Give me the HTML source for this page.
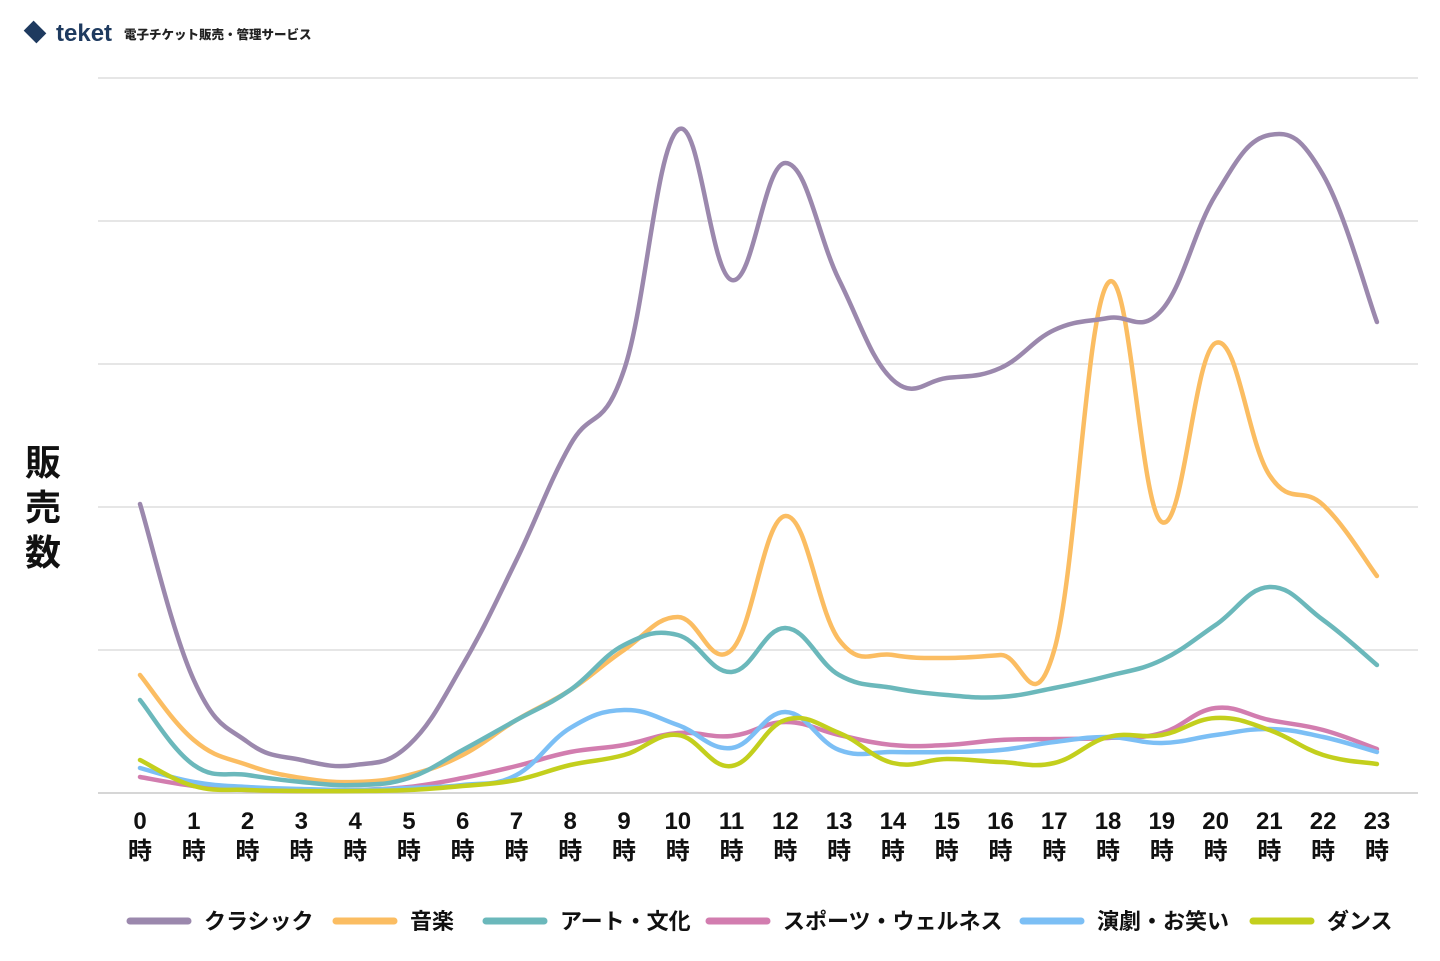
<!DOCTYPE html><html><head><meta charset="utf-8"><style>body{margin:0;background:#fff}svg text{font-family:"Liberation Sans","Noto Sans CJK JP",sans-serif;font-weight:bold;fill:#111}</style></head><body>
<svg id="s" width="1440" height="956" xmlns="http://www.w3.org/2000/svg">
<g transform="translate(35,32) rotate(45)"><rect x="-9" y="-7" width="18" height="14" fill="#1e3a5f"/></g>
<text x="56" y="41" font-size="24" style="fill:#1e3a5f;font-weight:900">teket</text>
<text x="124" y="39" font-size="12.5" style="fill:#222;font-weight:900">電子チケット販売・管理サービス</text>
<g stroke="#d6d6d6" stroke-width="1.2"><line x1="98" x2="1418" y1="78" y2="78"/><line x1="98" x2="1418" y1="221" y2="221"/><line x1="98" x2="1418" y1="364" y2="364"/><line x1="98" x2="1418" y1="507" y2="507"/><line x1="98" x2="1418" y1="650" y2="650"/><line x1="98" x2="1418" y1="793" y2="793" stroke="#c8c8c8" stroke-width="1.6"/></g>
<text x="43" y="475" font-size="36" text-anchor="middle">販</text>
<text x="43" y="520" font-size="36" text-anchor="middle">売</text>
<text x="43" y="565" font-size="36" text-anchor="middle">数</text>
<g id="ax"></g><g id="ln" fill="none" stroke-width="4.5" stroke-linecap="round"></g>
<g font-size="22">
<line x1="130" x2="188" y1="921" y2="921" stroke="#9b88ad" stroke-width="7" stroke-linecap="round"/><text x="204" y="929">クラシック</text>
<line x1="336" x2="394" y1="921" y2="921" stroke="#fbbd62" stroke-width="7" stroke-linecap="round"/><text x="410" y="929">音楽</text>
<line x1="486" x2="544" y1="921" y2="921" stroke="#6bb8bb" stroke-width="7" stroke-linecap="round"/><text x="560" y="929">アート・文化</text>
<line x1="709" x2="767" y1="921" y2="921" stroke="#d27daf" stroke-width="7" stroke-linecap="round"/><text x="783" y="929">スポーツ・ウェルネス</text>
<line x1="1023" x2="1081" y1="921" y2="921" stroke="#7cbff5" stroke-width="7" stroke-linecap="round"/><text x="1097" y="929">演劇・お笑い</text>
<line x1="1253" x2="1311" y1="921" y2="921" stroke="#c3cf1d" stroke-width="7" stroke-linecap="round"/><text x="1327" y="929">ダンス</text>
</g></svg>
<script>
var X=i=>140+i*53.78;var ns="http://www.w3.org/2000/svg";
var ax=document.getElementById('ax');
for(var i=0;i<24;i++){[[String(i),829],["時",859]].forEach(function(t){var e=document.createElementNS(ns,'text');e.setAttribute('x',X(i));e.setAttribute('y',t[1]);e.setAttribute('font-size','24');e.setAttribute('text-anchor','middle');e.textContent=t[0];ax.appendChild(e);});}
var D=[
["#fbbd62",[675,740,765,778,782,775,755,720,690,650,617,650,516,640,655,658,655,650,283,522,343,475,505,576]],
["#6bb8bb",[700,765,775,782,785,778,750,720,690,645,635,672,628,675,688,695,697,688,676,660,625,587,620,665]],
["#d27daf",[777,786,790,791,790,787,778,766,752,745,733,736,722,735,745,745,740,739,738,733,708,720,730,749]],
["#7cbff5",[768,782,787,789,790,788,785,775,728,710,725,748,712,750,752,752,750,742,737,743,735,729,737,752]],
["#c3cf1d",[760,786,790,791,791,790,786,780,765,755,735,766,720,733,763,759,762,763,737,735,718,730,755,764]],
["#9b88ad",[504,680,742,760,765,745,665,560,445,370,130,280,163,280,380,378,368,330,318,310,195,135,175,322]]];
var ln=document.getElementById('ln');
D.forEach(function(s){var y=s[1],p=y.map((v,i)=>[X(i),v]);var d="M"+p[0][0]+","+p[0][1];
for(var i=0;i<p.length-1;i++){var a=p[i-1]||p[i],b=p[i],c=p[i+1],e=p[i+2]||c;var t=0.2;
d+=" C"+(b[0]+(c[0]-a[0])*t)+","+(b[1]+(c[1]-a[1])*t)+" "+(c[0]-(e[0]-b[0])*t)+","+(c[1]-(e[1]-b[1])*t)+" "+c[0]+","+c[1];}
var el=document.createElementNS(ns,'path');el.setAttribute('d',d);el.setAttribute('stroke',s[0]);ln.appendChild(el);});
</script></body></html>
